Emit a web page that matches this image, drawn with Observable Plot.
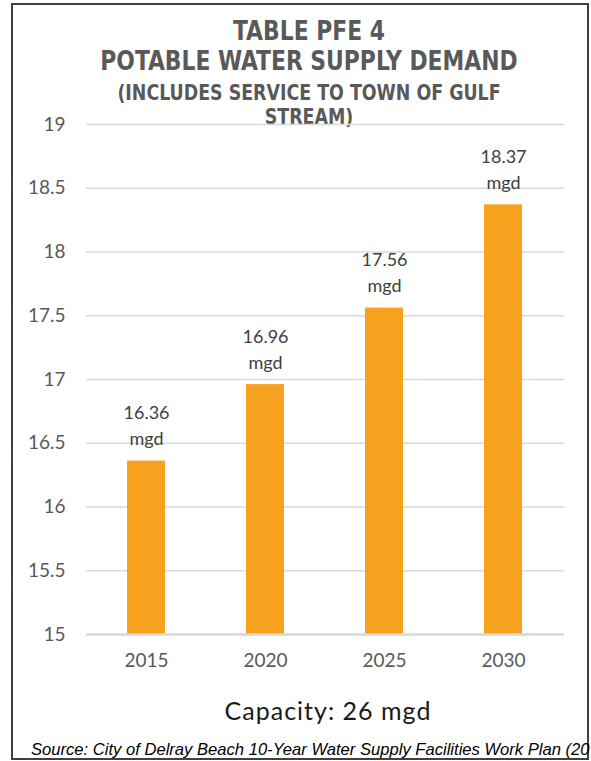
<!DOCTYPE html>
<html>
<head>
<meta charset="utf-8">
<script src="https://cdn.jsdelivr.net/npm/d3@7"></script>
<script src="https://cdn.jsdelivr.net/npm/@observablehq/plot@0.6"></script>
<style>
  html, body { margin: 0; padding: 0; background: #fff; }
  body { width: 591px; height: 761px; overflow: hidden; position: relative; }
  #frame { position: absolute; left: 11px; top: 3px; width: 574px; height: 753px; border: 2px solid #404040; }
  .title { position: absolute; left: 20px; width: 578px; text-align: center; color: #595959;
           font-family: "Liberation Sans Narrow", "DejaVu Sans Condensed", sans-serif; font-weight: bold; white-space: nowrap;
           transform: scaleX(0.9); transform-origin: 289px 0; }
  #chart { position: absolute; left: 0; top: 100px; }
  #capacity { position: absolute; left: 128px; width: 400px; top: 695px; text-align: center;
              font-family: Lato, sans-serif; font-size: 25px; letter-spacing: 1px; color: #1a1a1a; }
  #source { position: absolute; left: 31px; top: 740px; white-space: nowrap;
            font-family: "Liberation Sans", sans-serif; font-style: italic; font-size: 16.6px; color: #000; }
</style>
</head>
<body>
<div id="frame"></div>
<div class="title" style="top:15px;font-size:27px;">TABLE PFE 4</div>
<div class="title" style="top:45px;font-size:27px;">POTABLE WATER SUPPLY DEMAND</div>
<div class="title" style="top:80px;font-size:21.5px;">(INCLUDES SERVICE TO TOWN OF GULF</div>
<div class="title" style="top:104px;font-size:21.5px;">STREAM)</div>
<div id="chart"></div>
<div id="capacity">Capacity: 26 mgd</div>
<div id="source">Source: City of Delray Beach 10-Year Water Supply Facilities Work Plan (20</div>
<script>
const years = ["2015", "2020", "2025", "2030"];
const demand = [16.36, 16.96, 17.56, 18.37];
const unit = "mgd";
const yTicks = [15, 15.5, 16, 16.5, 17, 17.5, 18, 18.5, 19];

const data = years.map((y, i) => ({year: y, value: demand[i], label: demand[i].toFixed(2) + "\n" + unit}));

const chart = Plot.plot({
  width: 591,
  height: 600,
  marginTop: 24,
  marginBottom: 66,
  marginLeft: 86,
  marginRight: 27,
  style: {fontFamily: "Lato, sans-serif", fontSize: "19px", color: "#595959", background: "transparent"},
  x: {domain: years, paddingInner: 0.68, paddingOuter: 0.34, label: null, tickSize: 0, tickPadding: 19},
  y: {domain: [15, 19], ticks: yTicks, tickFormat: d => String(d), label: null, tickSize: 0, tickPadding: 21},
  marks: [
    Plot.ruleY(yTicks, {stroke: "#d9d9d9", strokeWidth: 1.5}),
    Plot.barY(data, {x: "year", y1: 15, y2: "value", fill: "#F7A21E"}),
    Plot.ruleY([15], {stroke: "#d9d9d9", strokeWidth: 2.5}),
    Plot.text(data, {x: "year", y: "value", text: "label", lineAnchor: "bottom", dy: -16,
                     fontSize: 18, lineHeight: 1.45, fill: "#404040"})
  ]
});
document.getElementById("chart").appendChild(chart);
</script>
</body>
</html>
